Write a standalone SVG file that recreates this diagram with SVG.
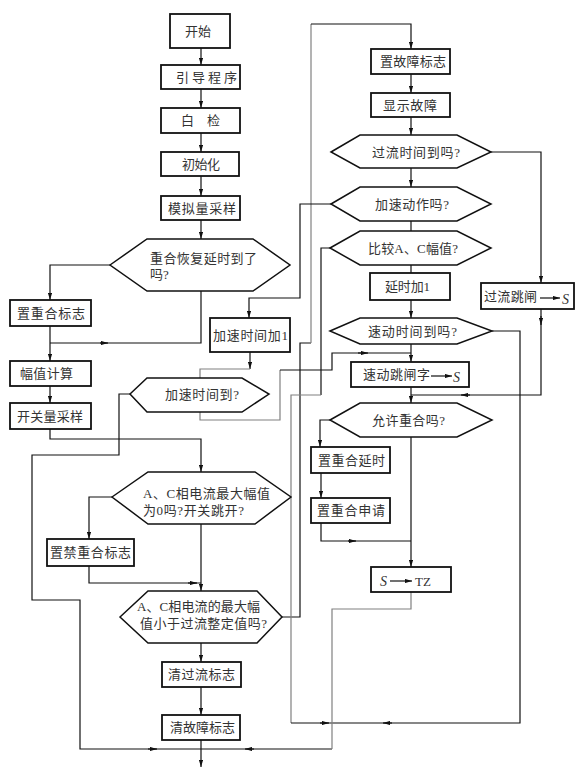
<svg xmlns="http://www.w3.org/2000/svg" width="584" height="769" viewBox="0 0 584 769">
<defs>
<marker id="ah" viewBox="0 0 10 6" refX="10" refY="3" markerWidth="7" markerHeight="4.5" markerUnits="userSpaceOnUse" orient="auto"><path d="M0,0 L10,3 L0,6 z" fill="#111"/></marker>
</defs>
<style>
rect.b{fill:#fff;stroke:#111;stroke-width:1.8}
polygon.h{fill:#fff;stroke:#111;stroke-width:1.5}
text{font-family:"Liberation Serif","Noto Sans CJK SC",serif;font-size:13px;fill:#333}
text.s{font-style:italic;font-size:14px}
#connectors path{fill:none;stroke:#111;stroke-width:1.2}
#connectors path.g{stroke:#808080}
#connectors path.a{marker-end:url(#ah)}
path.in{fill:none;stroke:#111;stroke-width:1.2;marker-end:url(#ah)}
</style>
<rect width="584" height="769" fill="#fff"/>
<g id="connectors">
<path class="a" d="M201,48 V65"/>
<path class="a" d="M201,89 V108"/>
<path class="a" d="M201,133 V152"/>
<path class="a" d="M201,176 V196"/>
<path class="a" d="M201,220 V239"/>
<path class="a" d="M110,265 H50 V300"/>
<path class="a" d="M50,326 V361"/>
<path d="M201,291 V343 H50"/>
<path class="a" d="M100,343 H108"/>
<path class="a" d="M50,386 V403"/>
<path class="a" d="M50,429 V439 H201 V472"/>
<path class="a" d="M112,497 H89 V539"/>
<path d="M89,566 V583 H201"/>
<path class="a" d="M188,583 H197"/>
<path class="a" d="M201,524 V591"/>
<path class="a" d="M201,643 V662"/>
<path class="a" d="M201,687 V715"/>
<path class="a" d="M201,740 V767"/>
<path d="M282,617 H300 V343 H311"/>
<path class="g" d="M311,343 V24"/>
<path class="a" d="M311,24 H411 V49"/>
<path class="a" d="M411,74 V93"/>
<path class="a" d="M411,117 V135"/>
<path class="a" d="M411,168 V187"/>
<path d="M411,221 V231"/>
<path d="M411,265 V273"/>
<path class="a" d="M411,300 V318"/>
<path class="a" d="M411,344 V362"/>
<path class="a" d="M411,387 V403"/>
<path class="a" d="M411,437 V567"/>
<path class="a" d="M491,152 H541 V283"/>
<path d="M541,309 V395 H411"/>
<path class="a" d="M541,316 V325"/>
<path class="a" d="M470,395 H461"/>
<path class="a" d="M331,204 H300 V298 H249 V318"/>
<path class="a" d="M250,352 V369"/>
<path class="g" d="M250,369 H200 V420 H280 V370"/>
<path d="M280,370 H332 V353 H411"/>
<path class="a" d="M358,353 H368"/>
<path d="M130,394 H119 V455 H32 V600 H80 V749 H332"/>
<path class="a" d="M148,749 H157"/>
<path class="a" d="M254,749 H245"/>
<path d="M330,248 H321 V395"/>
<path class="g" d="M321,395 H291 V723"/>
<path d="M291,723 H520 V331 H492"/>
<path class="a" d="M320,723 H329"/>
<path class="a" d="M392,723 H383"/>
<path class="a" d="M330,420 H320 V447"/>
<path class="a" d="M321,473 V498"/>
<path d="M321,523 V541 H411"/>
<path class="a" d="M348,541 H356"/>
<path class="g" d="M411,592 V609 H332 V749"/>
</g>
<g id="n-start"><rect class="b" x="170" y="14" width="60" height="34"/><text x="185" y="36" textLength="26">开始</text></g>
<g id="n-boot"><rect class="b" x="161" y="65" width="79" height="24"/><text x="176" y="82" textLength="61">引导程序</text></g>
<g id="n-selfcheck"><rect class="b" x="161" y="108" width="79" height="25"/><text x="181" y="125">白　检</text></g>
<g id="n-init"><rect class="b" x="161" y="152" width="78" height="24"/><text x="182" y="169" textLength="38">初始化</text></g>
<g id="n-analog"><rect class="b" x="161" y="196" width="79" height="24"/><text x="168" y="213" textLength="68">模拟量采样</text></g>
<g id="n-recloseDelay"><polygon class="h" points="110,265 147,239 253,239 290,265 253,291 147,291"/><text x="150" y="263" textLength="107">重合恢复延时到了</text><text x="150" y="279">吗?</text></g>
<g id="n-setReclose"><rect class="b" x="10" y="300" width="81" height="26"/><text x="17" y="318" textLength="68">置重合标志</text></g>
<g id="n-amp"><rect class="b" x="10" y="361" width="81" height="25"/><text x="20" y="378" textLength="53">幅值计算</text></g>
<g id="n-switch"><rect class="b" x="10" y="403" width="81" height="26"/><text x="17" y="421" textLength="66">开关量采样</text></g>
<g id="n-accelAdd"><rect class="b" x="210" y="318" width="80" height="34"/><text x="213" y="340" textLength="75">加速时间加1</text></g>
<g id="n-accelTime"><polygon class="h" points="130,394 147,378 242,378 269,394 242,412 147,412"/><text x="165" y="399" textLength="74">加速时间到?</text></g>
<g id="n-zeroAmp"><polygon class="h" points="112,497 148,472 255,472 291,497 255,524 148,524"/><text x="143" y="498" textLength="127">A、C相电流最大幅值</text><text x="143" y="515" textLength="101">为0吗?开关跳开?</text></g>
<g id="n-forbid"><rect class="b" x="47" y="539" width="87" height="27"/><text x="50" y="557" textLength="81">置禁重合标志</text></g>
<g id="n-lessThan"><polygon class="h" points="120,617 148,591 257,591 282,617 257,643 148,643"/><text x="137" y="611" textLength="123">A、C相电流的最大幅</text><text x="140" y="628" textLength="127">值小于过流整定值吗?</text></g>
<g id="n-clearOver"><rect class="b" x="162" y="662" width="79" height="25"/><text x="168" y="679" textLength="67">清过流标志</text></g>
<g id="n-clearFault"><rect class="b" x="162" y="715" width="78" height="25"/><text x="170" y="732" textLength="65">清故障标志</text></g>
<g id="n-setFault"><rect class="b" x="371" y="49" width="79" height="25"/><text x="380" y="66" textLength="66">置故障标志</text></g>
<g id="n-showFault"><rect class="b" x="371" y="93" width="79" height="24"/><text x="383" y="110" textLength="54">显示故障</text></g>
<g id="n-overTime"><polygon class="h" points="331,152 360,135 457,135 491,152 457,168 360,168"/><text x="372" y="157" textLength="88">过流时间到吗?</text></g>
<g id="n-accelAct"><polygon class="h" points="331,204 360,187 457,187 491,204 457,221 360,221"/><text x="375" y="209" textLength="74">加速动作吗?</text></g>
<g id="n-compare"><polygon class="h" points="330,248 360,231 457,231 491,248 457,265 360,265"/><text x="368" y="253" textLength="90">比较A、C幅值?</text></g>
<g id="n-delayAdd"><rect class="b" x="370" y="273" width="80" height="27"/><text x="385" y="291" textLength="45">延时加1</text></g>
<g id="n-quickTime"><polygon class="h" points="330,331 360,318 457,318 492,331 457,344 360,344"/><text x="368" y="336" textLength="89">速动时间到吗?</text></g>
<g id="n-quickTrip"><rect class="b" x="351" y="362" width="118" height="25"/><text x="363" y="379" textLength="67">速动跳闸字</text><path class="in" d="M431,376 H452"/><text class="s" x="453" y="382">S</text></g>
<g id="n-allow"><polygon class="h" points="330,420 360,403 457,403 492,420 457,437 360,437"/><text x="372" y="425" textLength="73">允许重合吗?</text></g>
<g id="n-overTrip"><rect class="b" x="481" y="283" width="93" height="26"/><text x="484" y="301" textLength="53">过流跳闸</text><path class="in" d="M540,298 H560"/><text class="s" x="562" y="304">S</text></g>
<g id="n-recDelay"><rect class="b" x="311" y="447" width="79" height="26"/><text x="318" y="465" textLength="67">置重合延时</text></g>
<g id="n-recReq"><rect class="b" x="311" y="498" width="79" height="25"/><text x="317" y="515" textLength="68">置重合申请</text></g>
<g id="n-tz"><rect class="b" x="371" y="567" width="80" height="25"/><text class="s" x="380" y="586">S</text><path class="in" d="M390,581 H412"/><text x="415" y="586">TZ</text></g>
</svg>
